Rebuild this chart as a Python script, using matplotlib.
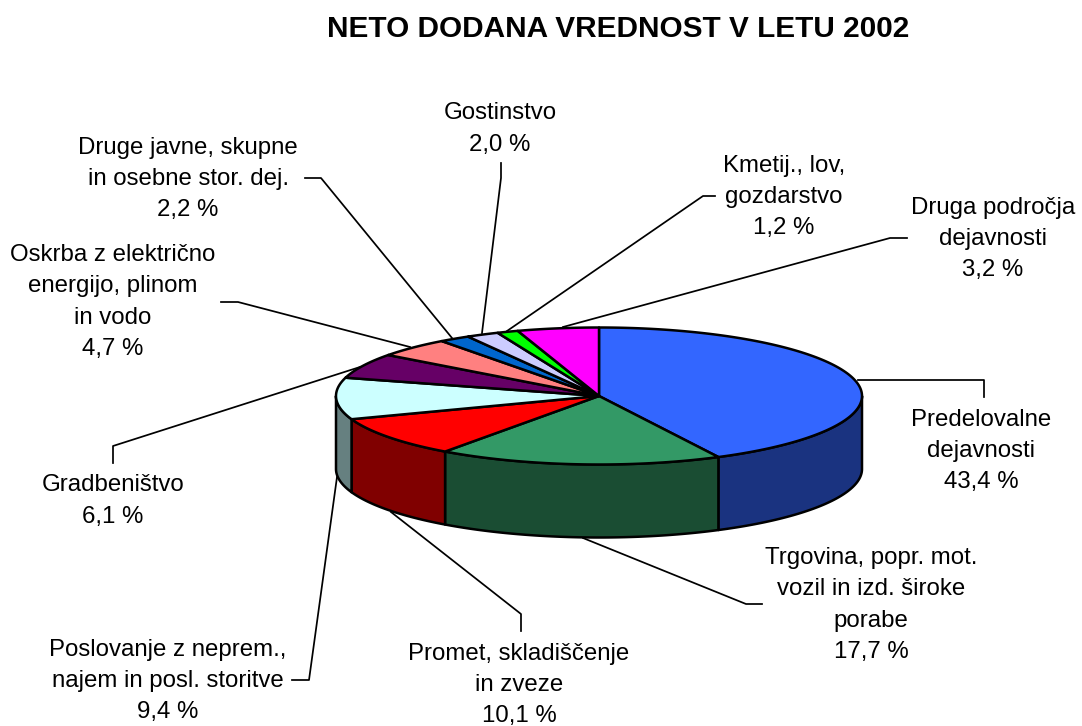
import matplotlib
matplotlib.use("Agg")
import matplotlib.pyplot as plt
import numpy as np

# values printed on the labels
names = ["Predelovalne\ndejavnosti", "Trgovina, popr. mot.\nvozil in izd. široke\nporabe",
         "Promet, skladiščenje\nin zveze", "Poslovanje z neprem.,\nnajem in posl. storitve",
         "Gradbeništvo", "Oskrba z električno\nenergijo, plinom\nin vodo",
         "Druge javne, skupne\nin osebne stor. dej.", "Gostinstvo",
         "Kmetij., lov,\ngozdarstvo", "Druga področja\ndejavnosti"]
label_pct = [43.4, 17.7, 10.1, 9.4, 6.1, 4.7, 2.2, 2.0, 1.2, 3.2]

# slice sizes as they are drawn (not quite the labels)
drawn_pct = [42.5, 17.45, 9.55, 9.8, 5.9, 4.6, 1.9, 2.0, 1.3, 5.0]

top_colors = ["#3366FF", "#339966", "#FF0000", "#CCFFFF", "#660066",
              "#FF8080", "#0066CC", "#CCCCFF", "#00FF00", "#FF00FF"]
side_colors = ["#1A3380", "#1A4D33", "#800000", "#668080", "#330033",
               "#804040", "#003366", "#666680", "#008000", "#800080"]

label_xy = [(981, 451), (871, 605), (519, 685), (168, 681), (113, 501),
            (113, 302), (188, 179), (500, 129), (784, 197), (993, 239)]

leaders = [[(858, 380), (984, 380), (984, 397)],
           [(583, 538), (746, 604), (762, 604)],
           [(391, 512), (521, 614), (521, 631)],
           [(337, 477), (309, 680), (292, 680)],
           [(360, 367), (113, 446), (113, 463)],
           [(410, 347), (238, 302), (221, 302)],
           [(452, 338), (321, 178), (305, 178)],
           [(482, 333), (501, 178), (501, 163)],
           [(507, 331), (703, 196), (715, 196)],
           [(563, 327), (890, 238), (907, 238)]]

cx, cy = 599, 396
rx, ry = 263, 68.5
depth = 73


def rim(a0, a1):
    # points on the top ellipse, angles in degrees clockwise from 12 o'clock
    t = np.radians(np.linspace(a0, a1, max(int(a1 - a0) * 2, 2)))
    return cx + rx * np.sin(t), cy - ry * np.cos(t)


plt.rcParams["font.family"] = ["Liberation Sans", "DejaVu Sans"]
fig = plt.figure(figsize=(10.82, 7.26), dpi=100)
ax = fig.add_axes([0, 0, 1, 1])
ax.set_xlim(0, 1082)
ax.set_ylim(726, 0)
ax.axis("off")

for line in leaders:
    xs, ys = zip(*line)
    ax.plot(xs, ys, color="black", lw=1.25, zorder=1)

edges = np.concatenate([[0], np.cumsum(drawn_pct)]) / sum(drawn_pct) * 360

# side wall, only the front half can be seen
for i in range(len(drawn_pct)):
    a0, a1 = max(edges[i], 90), min(edges[i + 1], 270)
    if a1 <= a0:
        continue
    x, y = rim(a0, a1)
    px = np.concatenate([x, x[::-1]])
    py = np.concatenate([y, y[::-1] + depth])
    ax.fill(px, py, facecolor=side_colors[i], edgecolor="black", lw=1.8,
            joinstyle="round", zorder=2)

# top of the pie
for i in range(len(drawn_pct)):
    x, y = rim(edges[i], edges[i + 1])
    ax.fill(np.concatenate([[cx], x]), np.concatenate([[cy], y]),
            facecolor=top_colors[i], edgecolor="black", lw=1.8,
            joinstyle="round", zorder=3)

for name, pct, (x, y) in zip(names, label_pct, label_xy):
    txt = name + "\n" + f"{pct:.1f}".replace(".", ",") + " %"
    ax.text(x, y, txt, ha="center", va="center", ma="center", fontsize=17.3,
            linespacing=1.55, color="black", zorder=4)

ax.text(618, 29, "NETO DODANA VREDNOST V LETU 2002", ha="center", va="center",
        fontsize=21.4, fontweight="bold", color="black")

fig.savefig("out.png", dpi=100)
